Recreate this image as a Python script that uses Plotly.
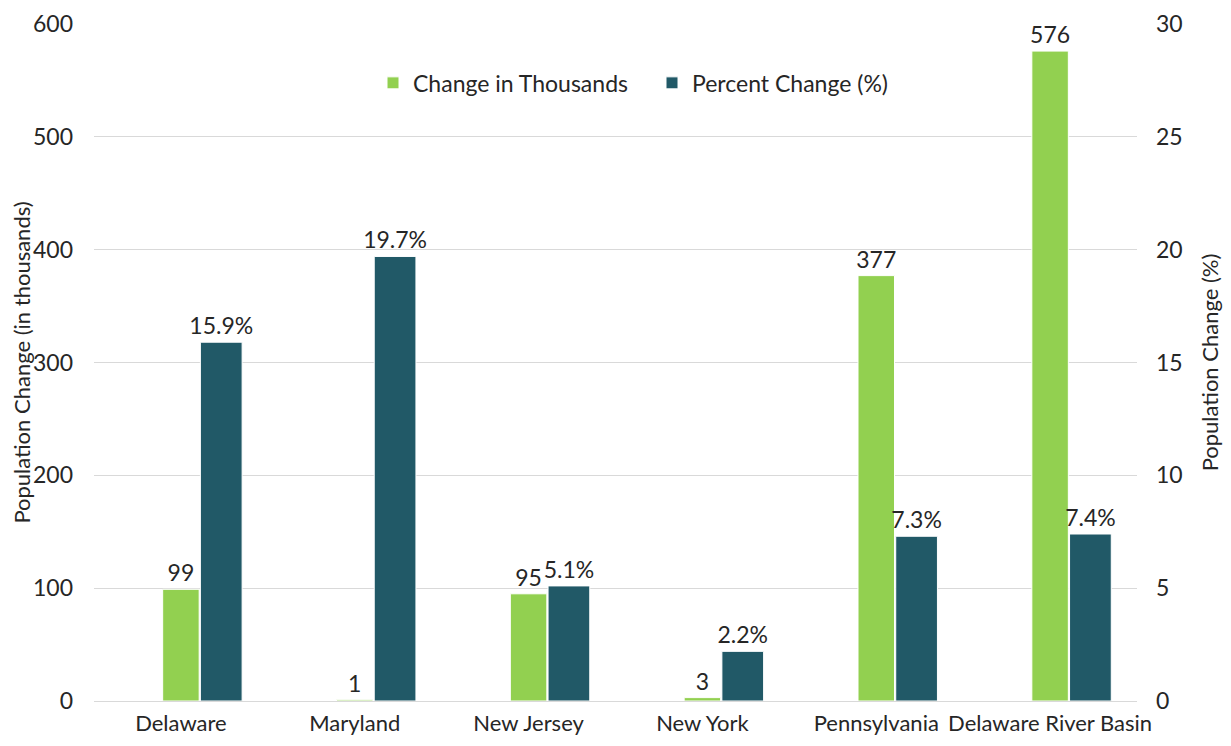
import plotly.graph_objects as go

categories = ["Delaware", "Maryland", "New Jersey", "New York", "Pennsylvania", "Delaware River Basin"]
change_thousands = [99, 1, 95, 3, 377, 576]
percent_change = [15.9, 19.7, 5.1, 2.2, 7.3, 7.4]

GREEN = "#92D050"
TEAL = "#215967"
TXT = "#262626"
FONT = "Lato"
FS = 23

fig = go.Figure()
fig.add_trace(go.Bar(
    x=categories, y=change_thousands, name="Change in Thousands",
    marker=dict(color=GREEN, line=dict(color="white", width=1)),
    offset=-0.105, width=0.21,
    text=[str(v) for v in change_thousands], textposition="outside", constraintext="none",
    textfont=dict(size=FS, color=TXT, family=FONT), cliponaxis=False,
    yaxis="y",
))
fig.add_trace(go.Bar(
    x=categories, y=percent_change, name="Percent Change (%)",
    marker=dict(color=TEAL, line=dict(color="white", width=1)),
    offset=0.112, width=0.24,
    text=[f"{v:.1f}%" for v in percent_change], textposition="outside", constraintext="none",
    textfont=dict(size=FS, color=TXT, family=FONT), cliponaxis=False,
    yaxis="y2",
))

fig.update_layout(
    width=1215, height=730,
    margin=dict(l=86, r=86, t=16, b=37),
    plot_bgcolor="white", paper_bgcolor="white",
    font=dict(family=FONT, size=FS, color=TXT),
    barmode="overlay",
    showlegend=True,
    legend=dict(orientation="h", x=0.535, xanchor="center", y=0.913, yanchor="middle",
                font=dict(size=FS, color=TXT), bgcolor="rgba(0,0,0,0)",
                itemwidth=30, traceorder="normal",
                entrywidth=234, entrywidthmode="pixels"),
    xaxis=dict(showgrid=False, showline=True, linecolor="#d9d9d9", linewidth=1, automargin=False,
               tickangle=0, tickfont=dict(size=FS - 1, color=TXT), ticks="", ticklabelstandoff=3,
               range=[-0.5, 5.5]),
    yaxis=dict(range=[0, 600], dtick=100, showgrid=True, gridcolor="#d9d9d9", gridwidth=1,
               zeroline=False, showline=False, ticks="", ticklabelstandoff=20, automargin=False,
               tickfont=dict(size=FS, color=TXT),
               title=dict(text="Population Change (in thousands)", font=dict(size=FS - 1, color=TXT), standoff=22)),
    yaxis2=dict(range=[0, 30], dtick=5, overlaying="y", side="right", showgrid=False,
                zeroline=False, showline=False, ticks="", ticklabelstandoff=18, automargin=False,
                tickfont=dict(size=FS, color=TXT),
                title=dict(text="Population Change (%)", font=dict(size=FS - 1, color=TXT), standoff=20)),
)

fig.write_html("out.html")
